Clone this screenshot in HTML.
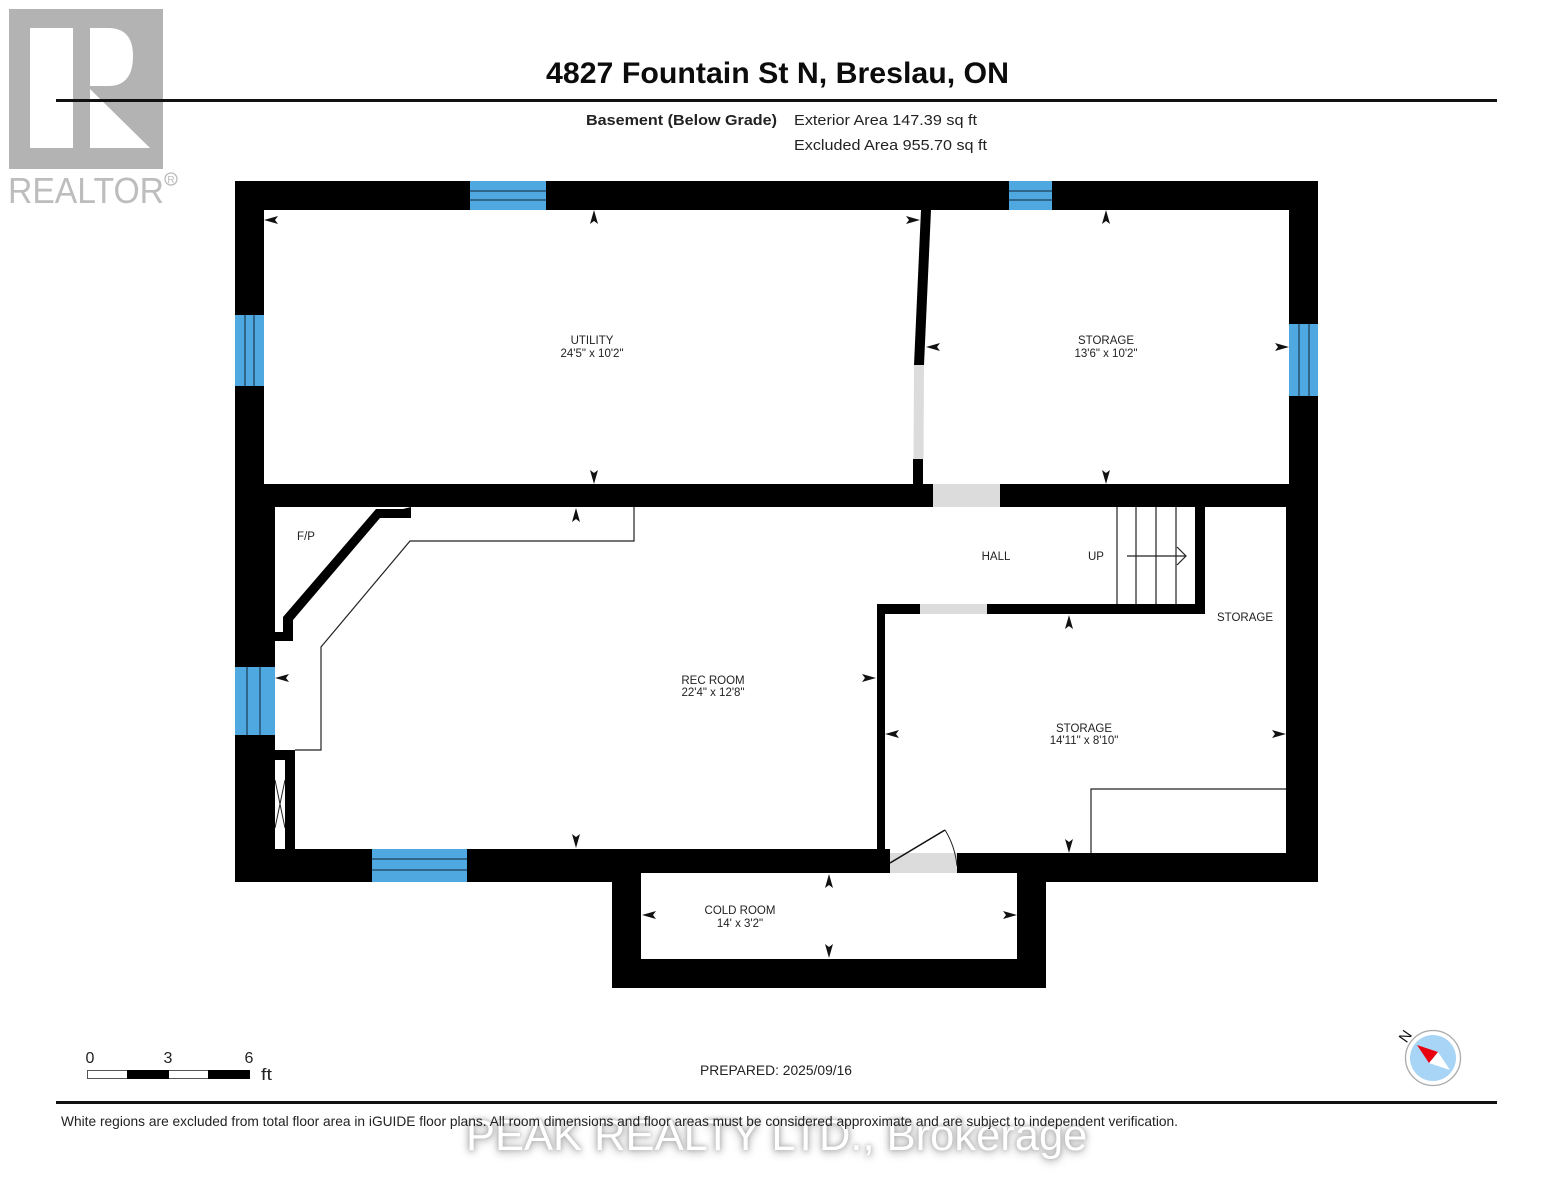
<!DOCTYPE html>
<html><head><meta charset="utf-8"><style>
html,body{margin:0;padding:0;background:#fff}
body{width:1553px;height:1200px;overflow:hidden;position:relative}
svg{position:absolute;left:0;top:0}
text{font-family:"Liberation Sans",sans-serif;fill:#222}
.r{font-size:11.5px;text-anchor:middle}
#wm{position:absolute;left:466px;top:1112px;width:621px;height:48px;font:43.5px/48px "Liberation Sans",sans-serif;color:#fff;white-space:nowrap;text-shadow:0 0 4px #aaa,0 1px 8px #bbb,0 3px 10px #ccc}
</style></head><body>
<div id="wm">PEAK REALTY LTD., Brokerage</div>
<svg width="1553" height="1200" viewBox="0 0 1553 1200" xmlns="http://www.w3.org/2000/svg">
<defs><path id="a" d="M0,0 L4,14 L0,11 L-4,14 Z" fill="#111"/></defs>
<!-- logo -->
<rect x="9" y="9" width="154" height="160" fill="#b3b3b3"/>
<rect x="30" y="28" width="43" height="120" fill="#fff"/>
<path d="M90,28 H108 Q133,28 133,56 Q133,86 108,86 H90 Z" fill="#fff"/>
<path d="M90,89 L150,148 H90 Z" fill="#fff"/>
<text x="8" y="203" font-size="36" textLength="156" lengthAdjust="spacingAndGlyphs" style="fill:#bdbdbd">REALTOR</text>
<circle cx="171" cy="179" r="6" fill="none" stroke="#bbb" stroke-width="1.3"/>
<text x="171" y="183" font-size="10" text-anchor="middle" style="fill:#bbb">R</text>
<!-- header -->
<rect x="56" y="99" width="1441" height="3" fill="#111"/>
<text x="546" y="83" font-size="29.5" font-weight="700" textLength="463" lengthAdjust="spacingAndGlyphs" style="fill:#0c0c0c">4827 Fountain St N, Breslau, ON</text>
<text x="586" y="125" font-size="15" font-weight="700" textLength="191" lengthAdjust="spacingAndGlyphs">Basement (Below Grade)</text>
<text x="794" y="125" font-size="15" textLength="183" lengthAdjust="spacingAndGlyphs">Exterior Area 147.39 sq ft</text>
<text x="794" y="150" font-size="15" textLength="193" lengthAdjust="spacingAndGlyphs">Excluded Area 955.70 sq ft</text>
<!-- walls -->
<rect x="235" y="181" width="1083" height="701" fill="#000"/>
<rect x="612" y="860" width="434" height="128" fill="#000"/>
<!-- white rooms -->
<rect x="264" y="210" width="1025" height="274" fill="#fff"/>
<path d="M275,507 H1286 V853 H885 V849 H275 Z" fill="#fff"/>
<rect x="641" y="873" width="376" height="86" fill="#fff"/>
<!-- interior walls -->
<path d="M921,210 H931 L924,365 H914 Z" fill="#000"/>
<path d="M914,365 H924 L923.5,459 H913.5 Z" fill="#dcdcdc"/>
<rect x="913" y="459" width="10" height="26" fill="#000"/>
<rect x="933" y="484" width="67" height="23" fill="#dcdcdc"/>
<path d="M275,632 H283 V617 L376,509 H403 L411,507 V518 H380 L293,620 V641 H275 Z" fill="#000"/>
<path d="M275,750 H295 V849 H285 V760 H275 Z" fill="#000"/>
<path d="M877,604 H1195 V507 H1205 V614 H885 V853 H877 Z" fill="#000"/>
<rect x="877" y="849" width="13" height="5" fill="#000"/>
<rect x="920" y="604" width="67" height="10" fill="#dcdcdc"/>
<rect x="885" y="853" width="5" height="20" fill="#000"/>
<rect x="890" y="853" width="67" height="20" fill="#dcdcdc"/>
<!-- closet X -->
<path d="M275,780 L285,828 M285,780 L275,828" stroke="#222" stroke-width="1" fill="none"/>
<!-- thin lines -->
<path d="M634,507 V541 H410 L321,647 V750 H295" fill="none" stroke="#222" stroke-width="1.2"/>
<path d="M1091,853 V789 H1286" fill="none" stroke="#222" stroke-width="1.2"/>
<!-- door -->
<path d="M890,863 L945,830" stroke="#111" stroke-width="1.6" fill="none"/>
<path d="M945,830 Q955,846 957,866" stroke="#222" stroke-width="1" fill="none"/>
<!-- stairs -->
<path d="M1117,507 V604 M1136,507 V604 M1156,507 V604 M1176,507 V604" stroke="#222" stroke-width="1.2" fill="none"/>
<path d="M1127,556 H1186 M1177,547 L1186,556 L1177,565" stroke="#222" stroke-width="1.2" fill="none"/>
<!-- windows -->
<g fill="#4fa9e0">
<rect x="470" y="181" width="76" height="29"/>
<rect x="1009" y="181" width="43" height="29"/>
<rect x="235" y="315" width="29" height="71"/>
<rect x="1289" y="324" width="29" height="72"/>
<rect x="235" y="667" width="40" height="68"/>
<rect x="372" y="849" width="95" height="33"/>
</g>
<g stroke="#123" stroke-width="1" fill="none">
<path d="M470,191 H546 M470,200 H546"/>
<path d="M1009,191 H1052 M1009,200 H1052"/>
<path d="M245,315 V386 M254,315 V386"/>
<path d="M1299,324 V396 M1309,324 V396"/>
<path d="M247,667 V735 M260,667 V735"/>
<path d="M372,859 H467 M372,870 H467"/>
</g>
<!-- arrowheads -->
<use href="#a" transform="translate(594,210)"/>
<use href="#a" transform="translate(594,484) rotate(180)"/>
<use href="#a" transform="translate(264,220) rotate(-90)"/>
<use href="#a" transform="translate(920,220) rotate(90)"/>
<use href="#a" transform="translate(1106,210)"/>
<use href="#a" transform="translate(1106,484) rotate(180)"/>
<use href="#a" transform="translate(926,347) rotate(-90)"/>
<use href="#a" transform="translate(1289,347) rotate(90)"/>
<use href="#a" transform="translate(576,508)"/>
<use href="#a" transform="translate(576,848) rotate(180)"/>
<use href="#a" transform="translate(275,678) rotate(-90)"/>
<use href="#a" transform="translate(876,678) rotate(90)"/>
<use href="#a" transform="translate(1069,615)"/>
<use href="#a" transform="translate(1069,853) rotate(180)"/>
<use href="#a" transform="translate(885,734) rotate(-90)"/>
<use href="#a" transform="translate(1286,734) rotate(90)"/>
<use href="#a" transform="translate(829,874)"/>
<use href="#a" transform="translate(829,958) rotate(180)"/>
<use href="#a" transform="translate(642,915) rotate(-90)"/>
<use href="#a" transform="translate(1017,915) rotate(90)"/>
<!-- labels -->
<text class="r" x="592" y="344">UTILITY</text>
<text class="r" x="592" y="357">24'5" x 10'2"</text>
<text class="r" x="1106" y="344">STORAGE</text>
<text class="r" x="1106" y="357">13'6" x 10'2"</text>
<text class="r" x="713" y="684">REC ROOM</text>
<text class="r" x="713" y="696">22'4" x 12'8"</text>
<text class="r" x="1084" y="732">STORAGE</text>
<text class="r" x="1084" y="744">14'11" x 8'10"</text>
<text class="r" x="740" y="914">COLD ROOM</text>
<text class="r" x="740" y="927">14' x 3'2"</text>
<text class="r" x="306" y="540">F/P</text>
<text class="r" x="996" y="560">HALL</text>
<text class="r" x="1096" y="560">UP</text>
<text class="r" x="1245" y="621">STORAGE</text>
<!-- scale -->
<rect x="87.5" y="1070.5" width="162" height="8" fill="#fff" stroke="#555"/>
<rect x="127" y="1070" width="42" height="9" fill="#000"/>
<rect x="208" y="1070" width="42" height="9" fill="#000"/>
<text x="90" y="1063" font-size="16" text-anchor="middle">0</text>
<text x="168" y="1063" font-size="16" text-anchor="middle">3</text>
<text x="249" y="1063" font-size="16" text-anchor="middle">6</text>
<text x="261" y="1080" font-size="17" textLength="11" lengthAdjust="spacingAndGlyphs">ft</text>
<text x="700" y="1075" font-size="14" textLength="152" lengthAdjust="spacingAndGlyphs">PREPARED: 2025/09/16</text>
<!-- compass -->
<circle cx="1433" cy="1058" r="27.5" fill="#fff" stroke="#aaa" stroke-width="1.3"/>
<circle cx="1433" cy="1058" r="23" fill="#a8d4f5"/>
<path d="M1438,1052 L1429,1063 L1450,1070 Z" fill="#fff"/>
<path d="M1417,1045 L1438,1052 L1429,1063 Z" fill="#e8000f"/>
<text x="1405" y="1041.5" font-size="15" text-anchor="middle" transform="rotate(-55 1405 1036)" style="fill:#111">N</text>
<!-- footer -->
<rect x="56" y="1101" width="1441" height="3" fill="#111"/>
<text x="61" y="1126" font-size="14" textLength="1117" lengthAdjust="spacingAndGlyphs">White regions are excluded from total floor area in iGUIDE floor plans. All room dimensions and floor areas must be considered approximate and are subject to independent verification.</text>
</svg>
</body></html>
